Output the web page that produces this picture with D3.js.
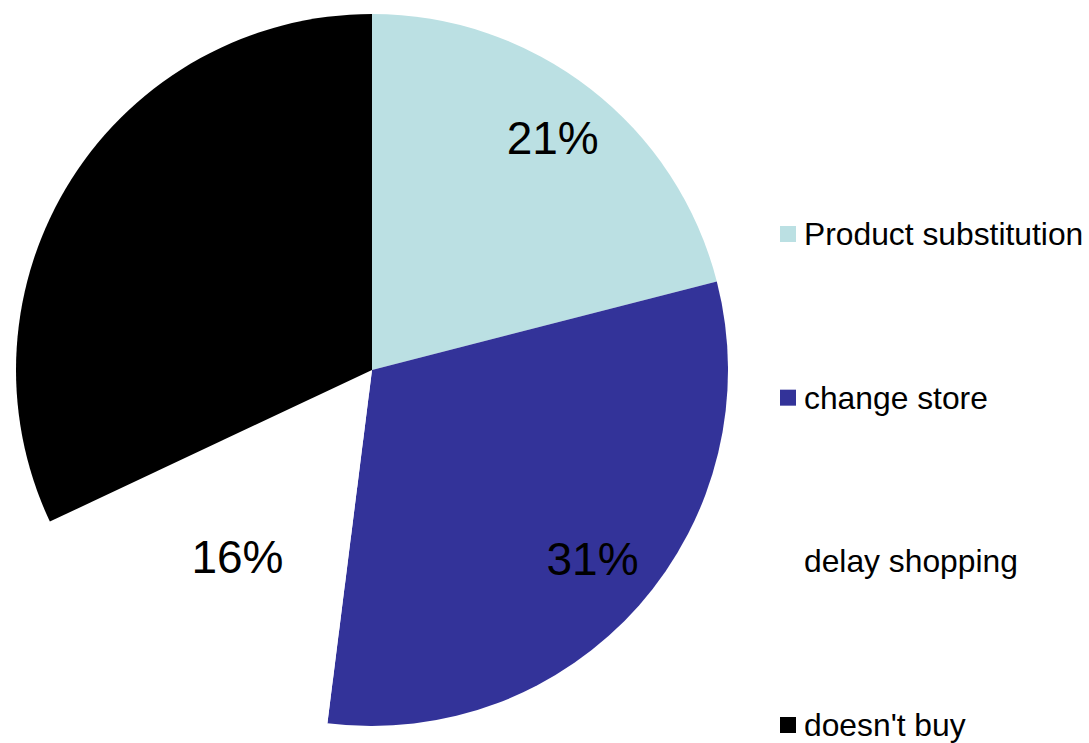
<!DOCTYPE html>
<html>
<head>
<meta charset="utf-8">
<script src="https://cdn.jsdelivr.net/npm/d3@7"></script>
<style>
  html, body { margin: 0; padding: 0; background: #fff; }
  svg { display: block; font-family: "Liberation Sans", Arial, sans-serif; }
</style>
</head>
<body>
<svg id="chart" width="1089" height="743"></svg>
<script>
// slices, clockwise from 12 o'clock
const categories = ['Product substitution', 'change store', 'delay shopping', 'doesn\'t buy'];
const values = [21, 31, 16, 32];
const colors = ['#bbe0e3', '#333399', '#ffffff', '#000000'];
const labels = ['21%', '31%', '16%', '32%'];

const svg = d3.select('#chart');
const cx = 372; const cy = 370; const r = 356;

const pie = d3.pie().sort(null).value((d)=>d.value);
const arcs = pie(categories.map((c, i)=>({name: c, value: values[i], color: colors[i], label: labels[i]})));

const arc = d3.arc().innerRadius(0).outerRadius(r);
// excel-ish best fit: the small white slice sits its label further in
const labelRadius = (d)=>(d.data.value < 20 ? 234 : 290);

const g = svg.append('g').attr('transform', `translate(${cx},${cy})`);

g.selectAll('path.slice')
    .data(arcs)
    .enter().append('path')
    .attr('class', 'slice')
    .attr('d', arc)
    .style('fill', (d)=>d.data.color)
    .style('stroke', 'none');

const fs = 46;
g.selectAll('text.pct')
    .data(arcs)
    .enter().append('text')
    .attr('class', 'pct')
    .attr('text-anchor', 'middle')
    .attr('x', (d)=>{
      const a = (d.startAngle + d.endAngle) / 2;
      return Math.sin(a) * labelRadius(d) + 3;
    })
    .attr('y', (d)=>{
      const a = (d.startAngle + d.endAngle) / 2;
      return -Math.cos(a) * labelRadius(d) + fs * 0.36 - 3;
    })
    .style('font-size', fs + 'px')
    .style('fill', '#000')
    .text((d)=>d.data.label);

// legend
const legendY = d3.scalePoint().domain(categories).range([245, 736]);
const legend = svg.append('g');
const item = legend.selectAll('g')
    .data(arcs)
    .enter().append('g')
    .attr('transform', (d)=>`translate(780,${legendY(d.data.name)})`);

item.append('rect')
    .attr('x', 0)
    .attr('y', -19)
    .attr('width', 16)
    .attr('height', 16)
    .style('fill', (d)=>d.data.color);

item.append('text')
    .attr('x', 24)
    .attr('y', 0)
    .style('font-size', '31.8px')
    .style('fill', '#000')
    .text((d)=>d.data.name);
</script>
</body>
</html>
